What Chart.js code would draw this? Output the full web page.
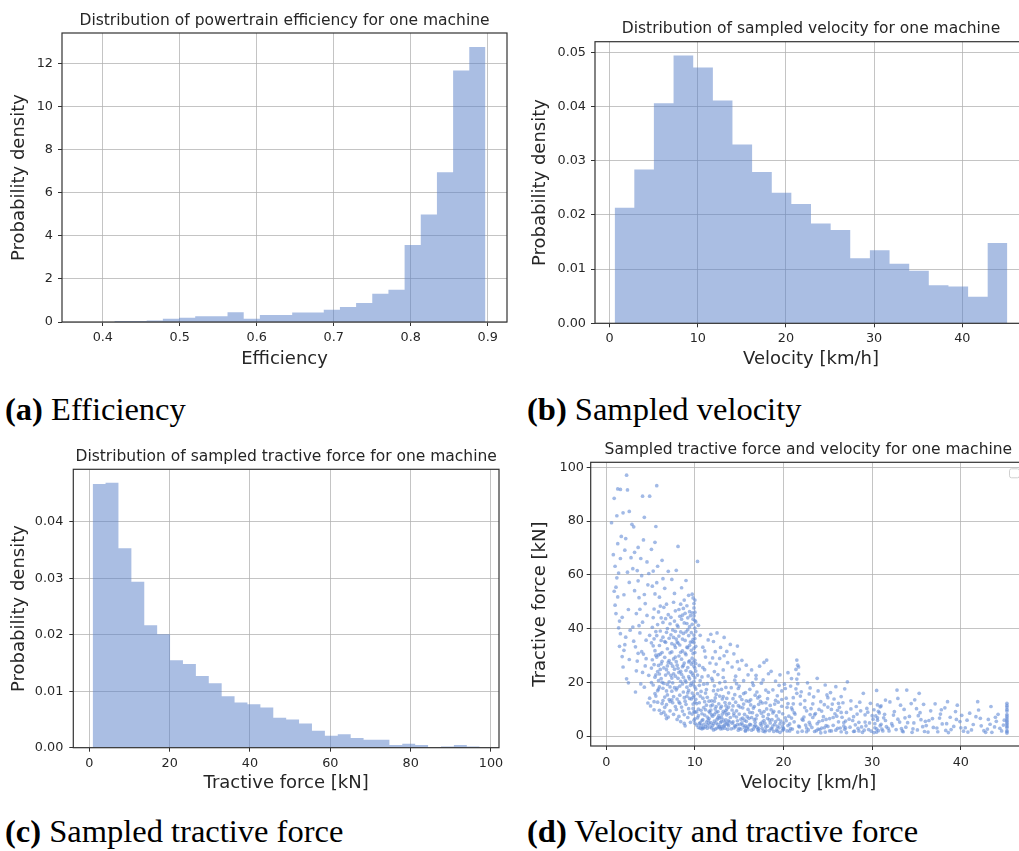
<!DOCTYPE html>
<html>
<head>
<meta charset="utf-8">
<script src="https://cdn.jsdelivr.net/npm/chart.js@4.4.0/dist/chart.umd.min.js"></script>
<style>
  html, body { margin: 0; padding: 0; background: #fff; overflow: hidden; width: 1019px; height: 851px; }
  .panel { position: absolute; }
  .caption { position: absolute; font-family: 'Liberation Serif', serif; font-size: 32.5px; line-height: 32.5px; color: #000; white-space: nowrap; }
  .caption b { font-weight: bold; }
</style>
</head>
<body>
<canvas id="effChart" class="panel" width="515" height="374" style="left:0;top:0"></canvas>
<canvas id="velChart" class="panel" width="515" height="374" style="left:515px;top:0"></canvas>
<canvas id="forceChart" class="panel" width="515" height="374" style="left:0;top:430px"></canvas>
<canvas id="scatterChart" class="panel" width="515" height="374" style="left:515px;top:430px"></canvas>

<div class="caption" style="left:5px;top:393px"><b>(a)</b> Efficiency</div>
<div class="caption" style="left:527px;top:393px"><b>(b)</b> Sampled velocity</div>
<div class="caption" style="left:5px;top:815px"><b>(c)</b> Sampled tractive force</div>
<div class="caption" style="left:527px;top:815px"><b>(d)</b> Velocity and tractive force</div>

<script>
// --- powertrain efficiency histogram (density=True, 23 bins)
const effEdges = [0.415, 0.436, 0.457, 0.478, 0.499, 0.520, 0.541, 0.562, 0.583, 0.604, 0.625, 0.646,
                  0.667, 0.687, 0.708, 0.729, 0.750, 0.771, 0.792, 0.813, 0.834, 0.855, 0.876, 0.897];
const effDensity = [0.05, 0.05, 0.07, 0.15, 0.2, 0.27, 0.27, 0.45, 0.15, 0.33, 0.33, 0.44,
                    0.44, 0.57, 0.69, 0.88, 1.31, 1.49, 3.57, 4.98, 6.94, 11.66, 12.75];
const effTicksX = [0.4, 0.5, 0.6, 0.7, 0.8, 0.9];
const effTicksY = [0, 2, 4, 6, 8, 10, 12];

// --- sampled velocity histogram (20 bins)
const velEdges = [0.57, 2.80, 5.02, 7.25, 9.48, 11.71, 13.93, 16.16, 18.39, 20.61, 22.84,
                  25.07, 27.29, 29.52, 31.75, 33.98, 36.20, 38.43, 40.66, 42.88, 45.11];
const velDensity = [0.0213, 0.0284, 0.0406, 0.0494, 0.0472, 0.0411, 0.0330, 0.0279, 0.0241, 0.0220,
                    0.0184, 0.0172, 0.0120, 0.0135, 0.0110, 0.0097, 0.0070, 0.0068, 0.0049, 0.0148];
const velTicksX = [0, 10, 20, 30, 40];
const velTicksY = [0, 0.01, 0.02, 0.03, 0.04, 0.05];

// --- sampled tractive force histogram (30 bins)
const forceEdges = [0.83, 4.04, 7.25, 10.47, 13.68, 16.89, 20.10, 23.31, 26.53, 29.74, 32.95,
                    36.16, 39.37, 42.59, 45.80, 49.01, 52.22, 55.43, 58.65, 61.86, 65.07,
                    68.28, 71.49, 74.71, 77.92, 81.13, 84.34, 87.55, 90.77, 93.98, 97.19];
const forceDensity = [0.0467, 0.0469, 0.0353, 0.0294, 0.0217, 0.0201, 0.0155, 0.0148, 0.0127, 0.0114,
                      0.0091, 0.0080, 0.0077, 0.0071, 0.0053, 0.0050, 0.0043, 0.0030, 0.0021, 0.0024,
                      0.0017, 0.0014, 0.0014, 0.0005, 0.0007, 0.0005, 0.0, 0.0002, 0.0005, 0.0002];
const forceTicksX = [0, 20, 40, 60, 80, 100];
const forceTicksY = [0, 0.01, 0.02, 0.03, 0.04];

// --- velocity [km/h] / tractive force [kN] samples
const slowSamples = [
  [2.3,97.1],[0.9,88.5],[1.3,92.0],[1.6,91.8],[2.4,91.6],[0.6,79.4],[1.2,82.0],[1.9,83.1],[2.6,83.6],
  [0.8,67.5],[1.0,63.2],[1.1,55.4],[1.3,71.6],[1.0,48.7],[1.4,40.3],[1.2,58.9],[1.6,66.1],[1.8,44.2],
  [2.0,52.6],[2.2,36.8],[1.5,33.4],[1.7,74.3],[2.4,61.0],[2.6,28.5],[2.1,69.2],[1.9,25.7],[2.5,47.1],
  [2.7,39.4],[1.3,51.8],[2.3,21.3],[2.6,57.2],[1.1,45.6],[2.0,31.9],[2.8,66.4],[1.6,38.1],[1.4,60.7],
  [2.2,73.5],[1.8,29.6],[2.5,19.8],[0.9,53.9],[1.5,42.8],[2.1,34.0],
  [2.9,78.8],[3.1,77.9],[4.1,89.3],[4.9,89.3],[4.3,81.4],[3.0,62.3],[3.2,54.1],[3.4,45.6],[3.6,70.2],
  [3.8,38.4],[4.0,59.7],[4.2,30.5],[4.4,49.3],[4.6,64.8],[4.8,22.6],[3.3,33.2],[3.5,27.9],[3.7,51.5],
  [3.9,66.1],[4.1,42.4],[4.3,18.2],[4.5,35.7],[4.7,56.3],[4.9,14.1],[3.0,40.6],[3.2,68.4],[3.4,24.3],
  [3.6,57.8],[3.8,47.2],[4.0,31.4],[4.2,73.0],[4.4,26.1],[4.6,44.9],[4.8,60.5],[3.1,35.3],[3.5,61.6],
  [3.9,19.4],[4.3,52.7],[4.7,12.3],[4.5,28.8],[3.7,41.1],[4.9,37.5],[3.3,16.4],[4.1,23.7],[3.6,30.8],
  [5.7,93.2],[5.6,78.0],[5.1,69.5],[5.3,61.4],[5.5,72.1],[5.2,55.8],[5.4,47.3],[5.6,38.9],[5.8,63.2],
  [6.0,51.7],[6.2,44.0],[6.4,58.6],[6.6,35.2],[6.8,49.1],[7.0,27.4],[7.2,41.8],[5.1,25.3],[5.3,33.6],
  [5.5,21.9],[5.7,29.4],[5.9,17.5],[6.1,24.8],[6.3,31.1],[6.5,19.6],[6.7,22.7],[6.9,15.3],[7.1,36.4],
  [5.0,11.2],[5.4,9.8],[5.8,12.6],[6.2,8.4],[6.6,10.7],[7.0,7.1],[5.6,14.9],[6.4,13.2],[6.8,6.5],
  [5.2,40.5],[5.9,46.2],[6.3,27.8],[6.9,32.5],[5.5,52.9],[6.1,39.1],[6.7,43.7],[7.1,20.2],[5.8,24.0],
  [6.5,47.9],[6.0,18.3],[5.3,19.0],[6.6,55.0],[7.0,61.3],[5.7,57.1],[6.4,36.8],[6.9,26.1],[5.1,34.7],
  [6.2,21.4],[5.9,30.2],[6.8,16.8],[7.2,12.9],[6.3,65.4],[5.4,26.6]
];
const midSamples = [
  [8.1,70.6],[7.4,58.3],[7.9,61.7],[8.5,55.2],[9.0,57.9],[9.3,52.4],[7.6,49.8],[8.2,47.1],[8.8,50.6],
  [9.4,46.3],[7.3,44.2],[7.5,39.5],[7.7,42.8],[7.9,36.1],[8.1,40.7],[8.3,33.9],[8.5,43.5],[8.7,38.2],
  [8.9,35.6],[9.1,41.9],[9.3,37.4],[9.5,44.8],[7.4,31.3],[7.6,28.7],[7.8,33.0],[8.0,26.4],[8.2,29.8],
  [8.4,24.1],[8.6,31.7],[8.8,27.2],[9.0,30.3],[9.2,25.5],[9.4,33.8],[7.3,22.6],[7.5,19.8],[7.7,24.9],
  [7.9,17.2],[8.1,21.5],[8.3,18.6],[8.5,23.0],[8.7,16.4],[8.9,20.7],[9.1,14.8],[9.3,22.1],[9.5,18.9],
  [7.4,13.5],[7.8,11.0],[8.2,12.7],[8.6,9.3],[9.0,11.8],[9.4,8.6],[7.6,8.1],[8.0,6.2],[8.4,5.4],
  [8.8,4.7],[9.2,6.9],[7.2,9.4],[8.9,3.8],[9.5,5.1],[7.7,53.1],[8.4,38.8],[8.6,45.0],[9.2,39.6],
  [9.4,28.0],[8.0,35.0],[7.5,26.0],[8.3,15.2],[9.1,48.5],[8.7,26.3],[7.8,46.6],[9.3,17.0],
  [9.7,52.8],[9.9,49.3],[10.0,46.1],[9.8,43.5],[10.0,40.2],[9.9,37.6],[9.7,35.1],[10.1,33.4],[9.8,30.7],
  [10.0,28.2],[9.9,26.0],[9.7,23.4],[10.0,21.7],[9.8,19.1],[10.1,17.5],[9.9,15.0],[10.0,12.6],[9.8,10.3],
  [9.7,8.2],[10.0,6.4],[9.9,44.8],[10.0,36.3],[9.8,27.5],[10.1,24.2],[9.6,31.9],[10.0,50.6],[9.6,13.8],
  [10.3,65.0],[10.4,41.2],[10.6,37.5],[10.9,33.1],[11.2,29.4],[11.5,35.8],[10.5,26.3],[10.8,22.0],
  [11.1,24.7],[11.4,19.5],[11.7,27.2],[10.3,15.8],[10.5,12.4],[10.7,9.6],[10.9,14.1],[11.1,7.8],
  [11.3,11.5],[11.5,5.9],[11.7,8.7],[10.2,4.1],[10.4,3.2],[10.6,5.0],[10.8,2.7],[11.0,4.4],[11.2,3.5],
  [11.4,2.9],[11.6,4.8],[10.3,6.8],[10.7,3.9],[11.0,10.6],[11.3,17.3],[10.5,18.9],[11.6,13.0],[10.9,6.1],
  [10.2,9.0],[11.4,7.1],[10.6,20.6],[11.1,31.7],
  [11.8,37.9],[12.1,35.2],[12.5,38.4],[12.9,33.0],[13.3,36.7],[13.6,31.5],[12.0,29.1],[12.4,26.8],
  [12.8,28.9],[13.2,24.6],[13.7,27.3],[11.9,21.5],[12.2,18.7],[12.6,22.9],[13.0,17.4],[13.4,20.3],
  [13.8,16.1],[12.3,14.2],[12.7,12.0],[13.1,13.8],[13.5,11.3],[11.8,9.7],[12.0,7.4],[12.2,5.6],
  [12.4,8.9],[12.6,4.3],[12.8,6.7],[13.0,3.4],[13.2,9.2],[13.4,5.1],[13.6,7.9],[13.8,3.8],[11.9,3.0],
  [12.1,4.6],[12.3,2.6],[12.5,6.2],[12.7,3.3],[12.9,10.4],[13.1,2.8],[13.3,4.0],[13.5,6.0],[13.7,2.5],
  [13.9,5.3],[12.0,11.6],[12.4,15.5],[12.8,19.8],[13.2,14.7],[13.6,10.1],[12.2,24.0],[12.6,9.1],
  [13.0,7.0],[13.4,12.5],[13.8,8.4],[12.1,16.9],[12.9,5.0],[13.5,18.1],[11.9,13.1],[13.3,29.9]
];
const fastSamples = [
  [14.0,34.1],[14.4,30.6],[14.8,33.5],[15.3,28.2],[15.8,26.4],[14.2,25.7],[14.6,22.3],[15.0,24.9],
  [15.5,20.6],[16.0,22.8],[14.1,18.0],[14.5,15.4],[14.9,17.7],[15.3,13.6],[15.7,16.2],[16.1,12.9],
  [14.3,11.2],[14.7,9.4],[15.1,10.8],[15.6,8.1],[16.0,9.9],[14.0,6.9],[14.2,4.8],[14.4,7.6],[14.6,3.5],
  [14.8,5.7],[15.0,2.9],[15.2,6.3],[15.4,4.1],[15.6,3.2],[15.8,5.5],[16.0,2.4],[16.2,4.4],[14.1,2.7],
  [14.5,3.9],[14.9,2.2],[15.3,4.9],[15.7,2.0],[16.1,6.6],[14.3,13.9],[14.7,19.5],[15.1,14.7],[15.5,11.9],
  [15.9,7.2],[14.4,8.5],[15.0,18.6],[15.7,3.8],[14.8,27.7],
  [16.4,24.6],[16.9,21.3],[17.3,26.0],[17.8,27.4],[18.1,28.3],[18.3,23.2],[16.6,18.9],[17.0,16.4],
  [17.5,19.7],[18.0,17.1],[16.3,13.5],[16.7,11.0],[17.1,14.2],[17.6,12.3],[18.2,13.9],[16.5,8.7],
  [16.9,6.4],[17.3,9.5],[17.7,7.3],[18.1,10.1],[16.3,4.2],[16.6,2.6],[16.8,5.1],[17.0,3.3],[17.2,1.9],
  [17.4,4.6],[17.6,2.8],[17.8,5.8],[18.0,2.2],[18.2,3.7],[18.4,6.0],[16.4,6.9],[16.8,15.2],[17.2,11.8],
  [17.7,20.9],[18.3,8.0],[16.7,3.5],[17.5,4.0],[18.0,12.4],[16.5,19.8],[17.9,1.6],
  [18.6,24.1],[19.1,20.5],[19.6,22.8],[20.1,19.3],[20.5,23.6],[18.8,17.2],[19.3,15.0],[19.8,16.8],
  [20.3,14.1],[18.5,11.4],[18.9,9.2],[19.4,12.6],[19.9,8.3],[20.4,10.7],[18.7,6.1],[19.0,4.4],[19.2,7.5],
  [19.5,3.1],[19.7,5.6],[20.0,2.5],[20.2,6.8],[20.5,3.9],[18.6,2.9],[18.9,1.7],[19.3,3.6],[19.6,1.4],
  [20.0,4.8],[20.4,1.9],[19.1,13.3],[19.8,11.1],[20.2,17.7],[18.8,8.6],[19.5,18.9],[20.6,7.4],[19.9,2.1],
  [21.5,28.3],[21.6,26.4],[21.4,24.8],[21.7,23.1],[21.5,21.2],[21.6,19.5],[21.4,17.6],[21.5,15.9],
  [21.7,25.7],[20.8,18.6],[21.1,14.3],[22.0,16.5],[22.4,13.2],[22.7,19.8],[20.9,10.5],[21.3,8.2],
  [21.9,11.9],[22.3,7.1],[22.6,9.4],[20.7,4.5],[21.0,2.6],[21.2,5.3],[21.8,3.4],[22.1,1.8],[22.5,4.1],
  [22.8,2.3],[20.9,6.7],[21.6,1.5],[22.2,5.9],[20.7,1.9],[22.6,3.0],[21.1,12.0],
  [23.0,17.9],[23.8,21.5],[24.7,19.0],[23.4,14.6],[24.2,12.8],[24.9,15.3],[23.1,10.2],[23.6,8.4],
  [24.0,9.9],[24.5,7.2],[25.0,10.8],[22.9,5.1],[23.2,3.2],[23.5,1.7],[23.8,4.6],[24.1,2.4],[24.4,5.8],
  [24.7,1.5],[25.0,3.6],[23.3,6.9],[24.3,3.0],[24.8,6.2],[23.7,2.0],[24.6,11.7],[23.9,16.8],[24.2,1.2],
  [23.0,8.0],
  [25.3,16.2],[25.9,18.4],[26.5,14.7],[27.2,20.2],[26.9,17.6],[25.5,11.9],[26.1,9.6],[26.7,12.4],
  [27.1,8.8],[25.2,6.5],[25.6,4.0],[25.9,2.2],[26.2,5.3],[26.5,1.6],[26.8,3.7],[27.1,1.3],[25.4,1.9],
  [26.0,7.4],[26.4,3.0],[27.0,5.6],[25.7,13.8],[26.3,10.7],[26.9,2.5],[25.8,8.3],[26.6,7.0]
];
const topSamples = [
  [27.6,13.1],[28.2,11.0],[29.0,15.9],[28.7,9.4],[27.9,7.2],[28.5,5.1],[29.2,7.9],[27.5,3.3],[28.0,1.8],
  [28.4,2.9],[28.9,1.4],[29.3,3.8],[27.8,5.8],[28.6,12.6],[29.4,10.3],[28.1,4.2],[29.1,2.2],
  [30.5,17.0],[29.8,12.2],[30.2,9.8],[30.4,7.5],[30.6,5.9],[30.8,8.6],[31.0,4.4],[30.3,3.1],[30.7,2.0],
  [30.1,6.3],[30.9,10.9],[31.3,6.8],[31.6,3.5],[29.7,4.9],[30.5,1.5],[31.1,2.6],[31.5,13.4],[29.9,1.8],
  [30.6,11.6],
  [32.8,17.1],[33.9,17.1],[32.0,12.7],[32.5,9.1],[33.2,11.5],[33.7,6.8],[32.2,4.6],[32.7,2.4],[33.1,5.2],
  [33.5,1.6],[33.8,3.3],[31.9,1.9],[32.4,7.8],[33.3,2.8],[32.9,14.0],[33.6,9.9],
  [35.3,15.9],[34.4,12.1],[35.0,10.2],[35.8,11.8],[34.2,7.3],[34.7,4.9],[35.1,2.3],[35.5,6.1],[35.9,1.7],
  [36.1,3.9],[34.5,1.4],[35.4,8.7],[34.8,13.5],[36.0,5.5],
  [36.6,9.4],[37.1,12.0],[37.6,6.7],[38.2,10.5],[36.9,3.2],[37.4,1.6],[37.9,4.5],[38.3,2.1],[36.4,5.8],
  [37.7,8.2],[38.5,12.8],[39.6,11.5],[38.8,7.0],[39.2,3.6],[39.9,5.4],[40.3,1.8],[38.6,1.3],[39.4,9.1],
  [40.1,7.7],[40.5,3.1],[41.9,12.8],[41.0,8.5],[41.4,4.3],[42.2,6.6],[42.6,2.0],[40.8,1.5],[42.0,9.7],
  [43.4,11.0],[43.1,6.2],[43.8,3.4],[44.2,8.1],[44.6,1.9],[43.5,1.4],[44.0,5.5],[44.8,4.1],[43.0,2.6],
  [45.2,12.2],[45.2,10.8],[45.2,9.3],[45.2,8.0],[45.2,6.7],[45.2,5.4],[45.2,4.2],[45.2,3.1],[45.2,2.0],
  [45.2,1.1],[45.2,7.4],[45.2,4.8]
];
// extra samples in the crowded low-speed / low-force region
const denseSamples = [
  [5.2,28.4],[5.4,36.2],[5.6,22.8],[5.8,41.5],[6.0,33.7],[6.2,26.9],[6.4,17.8],[6.6,29.3],[6.8,38.6],
  [7.0,23.5],[7.2,31.0],[7.4,16.7],[5.3,44.1],[5.5,15.8],[5.7,37.4],[5.9,20.6],[6.1,30.5],[6.3,12.1],
  [6.5,25.4],[6.7,34.9],[6.9,19.2],[7.1,28.1],[7.3,37.7],[7.5,12.4],[5.1,19.9],[5.6,30.1],[6.0,9.6],
  [6.4,42.3],[6.8,11.7],[7.2,18.3],[5.8,16.9],[6.2,35.6],[6.6,14.5],[7.0,45.2],[7.4,21.6],[5.4,12.8],
  [6.1,48.4],[6.5,8.9],[6.9,40.0],[7.3,27.0],[5.9,26.3],[6.3,20.0],[6.7,7.8],[7.1,13.6],[5.5,31.8],
  [6.0,23.1],[6.8,24.7],[7.4,34.4],
  [7.6,36.7],[7.8,29.4],[8.0,41.3],[8.2,23.7],[8.4,31.2],[8.6,19.4],[8.8,42.1],[9.0,24.4],[9.2,32.9],
  [9.4,21.3],[9.6,38.5],[7.7,18.0],[7.9,27.7],[8.1,34.6],[8.3,12.2],[8.5,28.6],[8.7,47.5],[8.9,30.9],
  [9.1,18.2],[9.3,27.6],[9.5,35.0],[7.6,14.7],[7.8,22.3],[8.0,17.9],[8.2,37.2],[8.4,20.4],[8.6,36.1],
  [8.8,14.3],[9.0,38.8],[9.2,16.1],[9.4,40.7],[9.6,26.8],[7.7,33.9],[7.9,9.9],[8.1,25.2],[8.3,44.6],
  [8.5,10.8],[8.7,21.9],[8.9,13.0],[9.1,33.1],[9.3,10.2],[9.5,23.9],[7.8,39.0],[8.0,13.8],[8.4,49.1],
  [8.8,8.0],[9.2,44.0],[9.6,19.7],[8.6,25.8],[9.0,20.1],[8.2,7.3],[7.6,23.2],[9.4,14.0],[8.9,45.7],
  [9.8,51.4],[9.9,47.7],[10.0,43.0],[9.7,41.6],[10.1,38.9],[9.8,36.0],[9.9,32.7],[10.0,31.1],[9.7,29.0],
  [10.1,27.0],[9.8,22.6],[9.9,20.4],[10.0,18.3],[9.7,16.0],[10.1,13.7],[9.8,11.9],[9.9,9.1],[10.0,4.8],
  [9.7,45.9],[10.1,42.5],[9.9,34.8],[10.0,25.3],[9.8,14.4],[10.0,8.9],[9.9,5.9],
  [10.2,12.1],[10.4,7.6],[10.6,14.9],[10.8,5.8],[11.0,19.3],[11.2,9.8],[11.4,14.4],[11.6,6.5],[11.8,11.2],
  [12.0,3.9],[12.2,13.0],[12.4,4.9],[12.6,17.1],[12.8,3.6],[13.0,11.1],[13.2,6.0],[13.4,2.9],[13.6,14.0],
  [13.8,5.7],[10.3,22.7],[10.5,4.6],[10.7,16.6],[10.9,3.1],[11.1,12.8],[11.3,5.2],[11.5,22.4],[11.7,3.4],
  [11.9,7.9],[12.1,2.3],[12.3,10.1],[12.5,3.0],[12.7,7.6],[12.9,2.7],[13.1,8.2],[13.3,3.7],[13.5,9.5],
  [13.7,4.4],[13.9,12.2],[10.4,10.0],[10.6,2.9],[10.8,8.3],[11.0,3.0],[11.2,16.0],[11.4,4.1],[11.6,9.2],
  [11.8,5.0],[12.0,20.7],[12.2,8.1],[12.4,11.0],[12.6,6.8],[12.8,14.9],[13.0,5.5],[13.2,21.8],[13.4,8.7],
  [13.6,4.6],[13.8,10.8],[10.9,25.5],[12.3,31.4],
  [14.2,9.7],[14.4,3.0],[14.6,12.6],[14.8,4.3],[15.0,8.2],[15.2,2.6],[15.4,10.5],[15.6,5.9],[15.8,13.1],
  [16.0,3.6],[16.2,8.8],[16.4,2.2],[16.6,10.4],[16.8,4.0],[17.0,7.7],[17.2,2.9],[17.4,12.9],[17.6,5.2],
  [17.8,9.1],[18.0,3.4],[18.2,6.6],[18.4,2.0],[18.6,9.8],[18.8,3.7],[19.0,11.9],[19.2,2.3],[19.4,6.3],
  [19.6,4.5],[19.8,13.6],[20.0,2.9],[14.3,5.3],[14.7,7.1],[15.1,4.4],[15.5,15.8],[15.9,3.0],[16.3,11.6],
  [16.7,6.1],[17.1,2.4],[17.5,8.5],[17.9,4.7],[18.3,16.3],[18.7,2.6],[19.1,5.4],[19.5,9.0],[19.9,3.5],
  [14.5,20.8],[15.4,6.7],[16.2,17.4],[17.3,14.8],[18.5,4.9],[19.3,1.8],[16.9,22.6],[14.9,11.3],[15.7,1.9],
  [17.7,1.8],
  [20.3,5.7],[20.8,2.8],[21.2,8.7],[21.7,3.7],[22.1,6.3],[22.6,1.6],[23.0,4.2],[23.5,7.9],[23.9,2.6],
  [24.3,9.3],[24.8,3.9],[25.2,1.9],[25.6,6.9],[26.1,2.9],[26.5,8.8],[27.0,3.1],[27.4,6.3],[27.9,1.7],
  [28.3,8.2],[28.8,3.4],[29.2,5.2],[29.6,2.4],[30.0,7.6],[30.3,4.6],[30.5,2.7],[30.7,9.2],[30.9,3.8],
  [31.2,1.9],[31.5,5.8],[31.8,2.9],[20.5,12.1],[21.0,9.8],[21.9,14.9],[22.4,10.6],[23.3,12.0],[24.0,5.4],
  [24.6,3.1],[25.4,9.9],[26.2,12.2],[26.8,5.0],[27.6,10.1],[28.5,1.9],[29.5,8.9],[30.2,1.3],[30.6,6.8],
  [31.0,11.2],[31.4,8.1],[20.9,21.4],[22.9,15.7],[25.0,14.3],
  [32.3,3.8],[32.9,6.3],[33.4,1.9],[34.0,5.0],[34.6,2.7],[35.2,7.6],[35.7,3.5],[36.3,1.5],[36.8,6.5],
  [37.3,3.0],[37.8,9.8],[38.4,4.6],[38.9,2.4],[39.5,6.2],[40.0,3.1],[40.7,5.9],[41.2,2.3],[41.7,7.2],
  [42.3,3.8],[42.8,1.4],[43.3,4.4],[43.9,7.0],[44.4,2.9],[44.9,5.9],[45.2,3.6],[45.2,6.0],[45.2,9.9],
  [45.2,11.4],[45.2,1.6]
];
const scatterTicksX = [0, 10, 20, 30, 40];
const scatterTicksY = [0, 20, 40, 60, 80, 100];

const histColor = 'rgba(85,125,199,0.5)';
const dotColor = 'rgba(100,140,214,0.6)';
const gridColor = 'rgba(176,176,176,0.75)';
const textColor = '#262626';
const FONT = 'DejaVu Sans';

Chart.defaults.animation = false;
Chart.defaults.font.family = FONT;

// histogram as a filled step line: one point per left edge, plus the last right edge
function stepPoints(edges, heights) {
  const pts = heights.map((h, i) => ({ x: edges[i], y: h }));
  pts.push({ x: edges[edges.length - 1], y: heights[heights.length - 1] });
  return pts;
}

// spines around the plot area
const framePlugin = {
  id: 'frame',
  afterDatasetsDraw(chart) {
    const a = chart.chartArea;
    const ctx = chart.ctx;
    ctx.save();
    ctx.strokeStyle = '#333';
    ctx.lineWidth = 1.2;
    ctx.strokeRect(a.left, a.top, a.right - a.left, a.bottom - a.top);
    ctx.restore();
  }
};

// empty legend frame in the upper right corner
const emptyLegend = {
  id: 'emptyLegend',
  afterDatasetsDraw(chart) {
    const a = chart.chartArea;
    const ctx = chart.ctx;
    ctx.save();
    ctx.fillStyle = 'rgba(255,255,255,0.8)';
    ctx.strokeStyle = '#d0d0d0';
    ctx.lineWidth = 1;
    ctx.beginPath();
    ctx.roundRect(a.right - 16.5, a.top + 6.5, 10, 9, 2);
    ctx.fill();
    ctx.stroke();
    ctx.restore();
  }
};

function axis(o) {
  return {
    type: 'linear',
    min: o.min,
    max: o.max,
    afterFit: s => { if (s.isHorizontal()) s.height = o.size; else s.width = o.size; },
    afterBuildTicks: s => { s.ticks = o.ticks.map(v => ({ value: v })); },
    grid: { color: gridColor, lineWidth: 1, tickLength: 4, tickColor: '#333', tickWidth: 1 },
    border: { display: false },
    ticks: {
      padding: o.pad, color: textColor, autoSkip: false, maxRotation: 0,
      font: { family: FONT, size: 12.8 },
      callback: v => Number(v).toFixed(o.dec)
    },
    title: {
      display: true, text: o.label, color: textColor,
      font: { family: FONT, size: 18 }, padding: o.titlePad
    }
  };
}

function makeChart(id, cfg) {
  return new Chart(document.getElementById(id), {
    type: cfg.type,
    data: { datasets: cfg.datasets },
    options: {
      responsive: false,
      devicePixelRatio: 1,
      layout: { padding: { left: 0, right: cfg.right, top: 0, bottom: 0 } },
      plugins: {
        legend: { display: false },
        tooltip: { enabled: false },
        title: {
          display: true, text: cfg.title, fullSize: false, color: textColor,
          font: { family: FONT, size: 15.5, weight: 'normal' },
          padding: cfg.titlePad
        }
      },
      scales: { x: axis(cfg.x), y: axis(cfg.y) }
    },
    plugins: cfg.plugins
  });
}

function histDataset(edges, heights) {
  return {
    data: stepPoints(edges, heights),
    stepped: 'before',
    fill: 'origin',
    backgroundColor: histColor,
    borderColor: 'transparent',
    borderWidth: 0,
    pointRadius: 0
  };
}

makeChart('effChart', {
  type: 'line',
  title: 'Distribution of powertrain efficiency for one machine',
  titlePad: { top: 11.2, bottom: 3.2 },
  right: 8,
  datasets: [histDataset(effEdges, effDensity)],
  x: { min: 0.347, max: 0.925, ticks: effTicksX, dec: 1, size: 52, pad: 4,
       label: 'Efficiency', titlePad: { top: 0, bottom: 4 } },
  y: { min: 0, max: 13.4, ticks: effTicksY, dec: 0, size: 62, pad: 5,
       label: 'Probability density', titlePad: { top: 8.9, bottom: 0 } },
  plugins: [framePlugin]
});

makeChart('velChart', {
  type: 'line',
  title: 'Distribution of sampled velocity for one machine',
  titlePad: { top: 19.9, bottom: 3.2 },
  right: 3,
  datasets: [histDataset(velEdges, velDensity)],
  x: { min: -1.66, max: 47.34, ticks: velTicksX, dec: 0, size: 50.7, pad: 3.2,
       label: 'Velocity [km/h]', titlePad: { top: 0, bottom: 3.9 } },
  y: { min: 0, max: 0.05196, ticks: velTicksY, dec: 2, size: 80, pad: 5,
       label: 'Probability density', titlePad: { top: 14.9, bottom: 0 } },
  plugins: [framePlugin]
});

makeChart('forceChart', {
  type: 'line',
  title: 'Distribution of sampled tractive force for one machine',
  titlePad: { top: 17.7, bottom: 3.0 },
  right: 16,
  datasets: [histDataset(forceEdges, forceDensity)],
  x: { min: -3.99, max: 102.0, ticks: forceTicksX, dec: 0, size: 56.3, pad: 4,
       label: 'Tractive force [kN]', titlePad: { top: 0, bottom: 9.9 } },
  y: { min: 0, max: 0.0493, ticks: forceTicksY, dec: 2, size: 73.3, pad: 6,
       label: 'Probability density', titlePad: { top: 8.4, bottom: 0 } },
  plugins: [framePlugin]
});

const toXY = p => ({ x: p[0], y: p[1] });
makeChart('scatterChart', {
  type: 'scatter',
  title: 'Sampled tractive force and velocity for one machine',
  titlePad: { top: 10.4, bottom: 3.3 },
  right: 4,
  datasets: [{
    data: [...slowSamples, ...midSamples, ...fastSamples, ...topSamples, ...denseSamples].map(toXY),
    backgroundColor: dotColor,
    borderColor: 'transparent',
    borderWidth: 0,
    pointRadius: 1.85
  }],
  x: { min: -1.75, max: 47.35, ticks: scatterTicksX, dec: 0, size: 58, pad: 4.5,
       label: 'Velocity [km/h]', titlePad: { top: 0, bottom: 9.9 } },
  y: { min: -3.7, max: 101.9, ticks: scatterTicksY, dec: 0, size: 75.7, pad: 2.7,
       label: 'Tractive force [kN]', titlePad: { top: 14.7, bottom: 0 } },
  plugins: [framePlugin, emptyLegend]
});
</script>
</body>
</html>
